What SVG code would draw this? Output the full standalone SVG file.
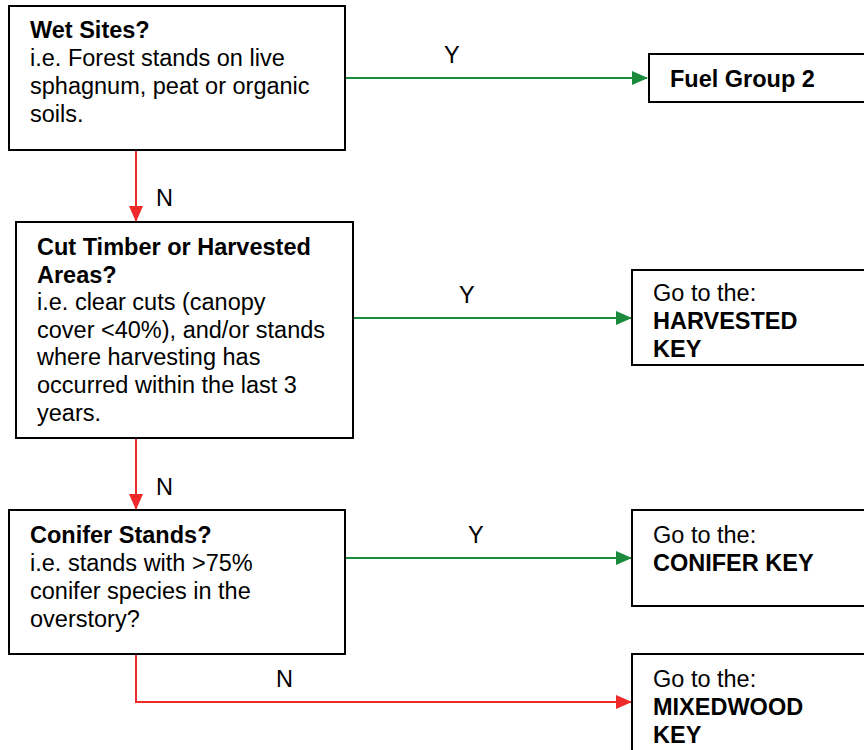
<svg xmlns="http://www.w3.org/2000/svg" width="864" height="750" viewBox="0 0 864 750">
<style>
.box{fill:#fff;stroke:#000;stroke-width:2}
text{font-family:"Liberation Sans",Arial,sans-serif;font-size:23.5px;fill:#000}
.b{font-weight:bold}
.g{stroke:#1a8a3c;stroke-width:2;fill:none}
.r{stroke:#ee2a2a;stroke-width:2;fill:none}
</style>
<defs>
<marker id="ag" markerWidth="16" markerHeight="14" refX="15" refY="7" orient="auto" markerUnits="userSpaceOnUse"><path d="M0,0 L16,7 L0,14 Z" fill="#1a8a3c"/></marker>
<marker id="ar" markerWidth="16" markerHeight="14" refX="15" refY="7" orient="auto" markerUnits="userSpaceOnUse"><path d="M0,0 L16,7 L0,14 Z" fill="#ee2a2a"/></marker>
</defs>
<g id="connectors">
<line class="g" x1="345" y1="78" x2="647" y2="78" marker-end="url(#ag)"/>
<text x="444" y="63">Y</text>
<line class="r" x1="136" y1="150" x2="136" y2="221" marker-end="url(#ar)"/>
<text x="156" y="206">N</text>
<line class="g" x1="353" y1="318" x2="631" y2="318" marker-end="url(#ag)"/>
<text x="459" y="303">Y</text>
<line class="r" x1="136" y1="438" x2="136" y2="509" marker-end="url(#ar)"/>
<text x="156" y="495">N</text>
<line class="g" x1="345" y1="558" x2="631" y2="558" marker-end="url(#ag)"/>
<text x="468" y="543">Y</text>
<polyline class="r" points="136,654 136,702 631,702" marker-end="url(#ar)"/>
<text x="276" y="687">N</text>
</g>
<g id="wet">
<rect class="box" x="9" y="6" width="336" height="144"/>
<text x="30" y="38" class="b">Wet Sites?</text>
<text x="30" y="66">i.e. Forest stands on live</text>
<text x="30" y="94">sphagnum, peat or organic</text>
<text x="30" y="122">soils.</text>
</g>
<g id="fuel2">
<rect class="box" x="649" y="54" width="230" height="48"/>
<text x="670" y="87" class="b">Fuel Group 2</text>
</g>
<g id="cut">
<rect class="box" x="16" y="222" width="337" height="216"/>
<text x="37" y="255" class="b">Cut Timber or Harvested</text>
<text x="37" y="283" class="b">Areas?</text>
<text x="37" y="310">i.e. clear cuts (canopy</text>
<text x="37" y="338">cover &lt;40%), and/or stands</text>
<text x="37" y="365">where harvesting has</text>
<text x="37" y="393">occurred within the last 3</text>
<text x="37" y="421">years.</text>
</g>
<g id="harvested">
<rect class="box" x="632" y="270" width="250" height="95"/>
<text x="653" y="301">Go to the:</text>
<text x="653" y="329" class="b">HARVESTED</text>
<text x="653" y="357" class="b">KEY</text>
</g>
<g id="conifer">
<rect class="box" x="9" y="510" width="336" height="144"/>
<text x="30" y="543" class="b">Conifer Stands?</text>
<text x="30" y="571">i.e. stands with &gt;75%</text>
<text x="30" y="599">conifer species in the</text>
<text x="30" y="627">overstory?</text>
</g>
<g id="coniferkey">
<rect class="box" x="632" y="510" width="250" height="96"/>
<text x="653" y="543">Go to the:</text>
<text x="653" y="571" class="b">CONIFER KEY</text>
</g>
<g id="mixedwood">
<rect class="box" x="632" y="654" width="250" height="110"/>
<text x="653" y="687">Go to the:</text>
<text x="653" y="715" class="b">MIXEDWOOD</text>
<text x="653" y="743" class="b">KEY</text>
</g>
</svg>
